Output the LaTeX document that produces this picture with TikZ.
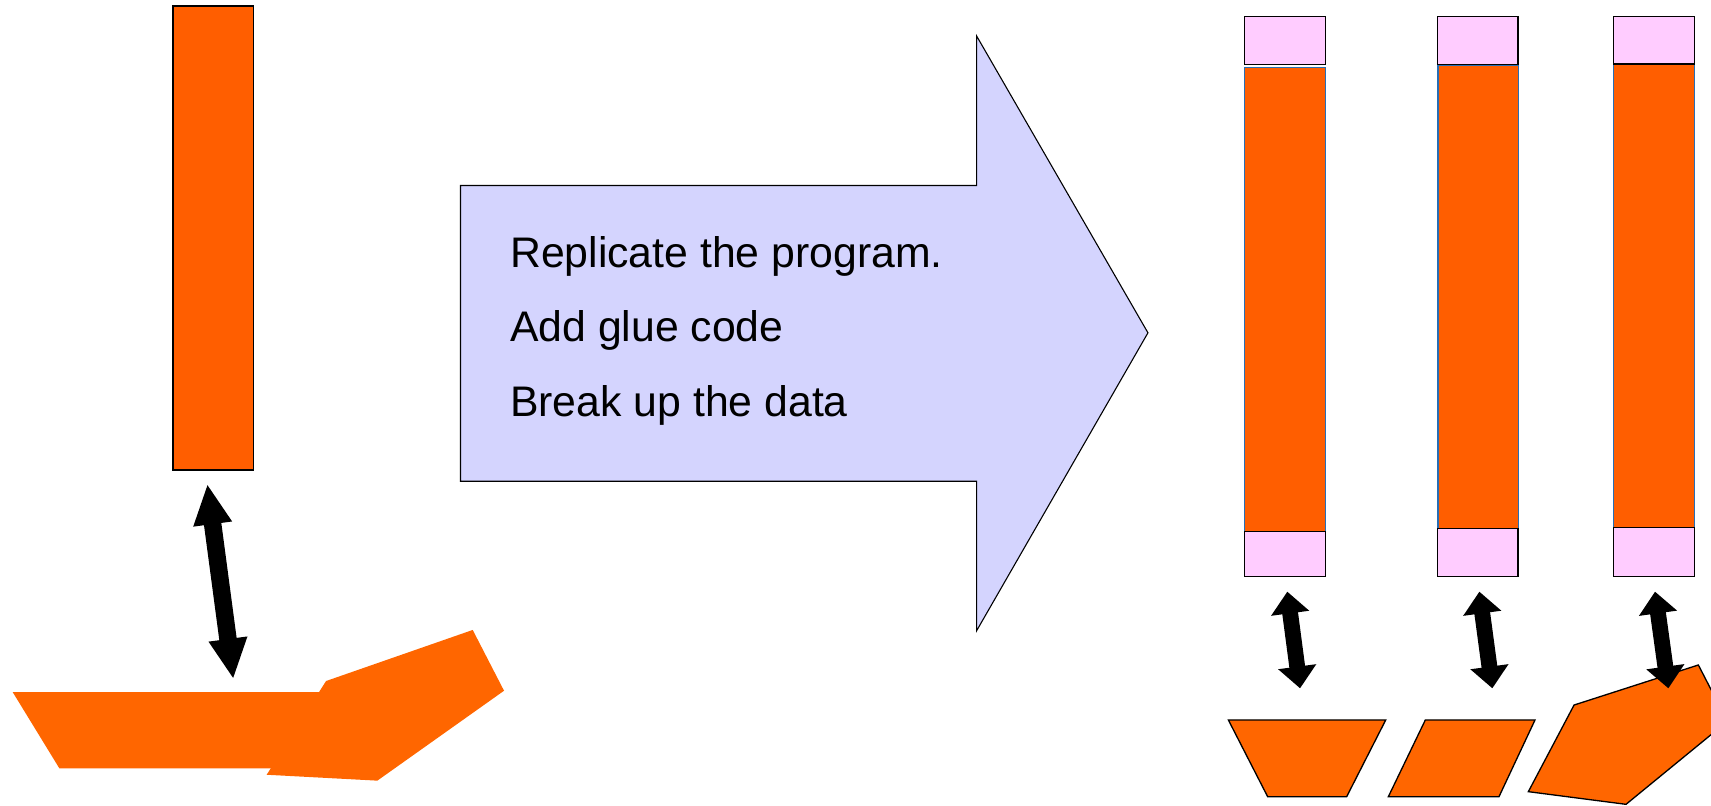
\documentclass[tikz,border=0pt]{standalone}
\usepackage{fontspec}
\setmainfont{Liberation Sans}
\usetikzlibrary{arrows.meta}
\definecolor{barorange}{RGB}{255,94,0}
\definecolor{dataorange}{RGB}{255,102,0}
\definecolor{lav}{RGB}{212,212,254}
\definecolor{pinkbox}{RGB}{255,204,255}
\definecolor{barblue}{RGB}{40,110,180}
\tikzset{
  bar/.style={draw=barblue, line width=1.3pt, fill=barorange, inner sep=0pt, minimum width=74pt, anchor=north west},
  leftbar/.style={draw=black, line width=1.2pt, fill=barorange, inner sep=0pt, anchor=north west},
  pinkcap/.style={draw=black, line width=1.3pt, fill=pinkbox, inner sep=0pt, minimum width=74pt, anchor=north west},
  dataleft/.style={fill=dataorange},
  dataright/.style={draw=black, line width=1.2pt, fill=dataorange, line join=miter},
  dbl/.style={line width=16pt, {Triangle[width=33pt,length=37pt]}-{Triangle[width=33pt,length=37pt]}},
  dbls/.style={line width=14.5pt, {Triangle[width=34pt,length=20pt]}-{Triangle[width=34pt,length=20pt]}},
  lbl/.style={anchor=base west, inner sep=0pt, font=\fontsize{39.2}{46}\selectfont}
}
\begin{document}
\begin{tikzpicture}[x=1pt,y=-1pt]
\useasboundingbox (0,0) rectangle (1568,738);
% left program bar
\node[leftbar, minimum width=74pt, minimum height=425pt] (lbar) at (158,5) {};
% left data (merged shapes)
\fill[dataleft] (11.6,634.2) -- (330,634.2) -- (330,704.1) -- (54.4,704.1) -- cycle;
\fill[dataleft] (298.8,624.1) -- (433.2,577.3) -- (461.9,633) -- (345.8,715.4) -- (244.4,710) -- cycle;
\coordinate (la1) at (190,443.6);
\coordinate (la2) at (213.8,622.3);
\draw[dbl] (la1) -- (la2);
% big arrow
\draw[fill=lav, line width=1pt, line join=miter] (422,170) -- (895,170) -- (895,33) -- (1052,305) -- (895,578) -- (895,441) -- (422,441) -- cycle;
\node[lbl] (t1) at (467.3,245) {Replicate the program.};
\node[lbl] (t2) at (467.3,313) {Add glue code};
\node[lbl] (t3) at (467.3,382) {Break up the data};
% right columns
\node[bar, minimum height=425.5pt] (b1) at (1140,61) {};
\node[pinkcap, minimum height=44.3pt] (c1t) at (1140,14.4) {};
\node[pinkcap, minimum height=41.4pt] (c1b) at (1140,486.5) {};
\node[bar, minimum height=425pt] (b2) at (1317,59.3) {};
\node[pinkcap, minimum height=44.3pt] (c2t) at (1316.6,14.4) {};
\node[pinkcap, minimum height=44.4pt] (c2b) at (1316.6,483.5) {};
\node[bar, minimum height=424.6pt] (b3) at (1478,58) {};
\node[pinkcap, minimum height=43.6pt] (c3t) at (1478,14.4) {};
\node[pinkcap, minimum height=45.3pt] (c3b) at (1478,482.6) {};
% right data
\draw[dataright] (1125.7,659.8) -- (1269.9,659.8) -- (1234.1,730.1) -- (1161.7,730.1) -- cycle;
\draw[dataright] (1306.2,659.8) -- (1406.7,659.8) -- (1373.7,730.1) -- (1272.3,730.1) -- cycle;
\draw[dataright] (1442.5,646.1) -- (1556.4,609.4) -- (1583,661) -- (1490.1,737.1) -- (1400.6,725.5) -- cycle;
% right arrows
\coordinate (r1a) at (1179.7,542.2);
\coordinate (r1b) at (1191.4,630.8);
\coordinate (r2a) at (1355.7,542.2);
\coordinate (r2b) at (1367.6,630.8);
\coordinate (r3a) at (1516.7,542.2);
\coordinate (r3b) at (1528.9,630.8);
\draw[dbls] (r1a) -- (r1b);
\draw[dbls] (r2a) -- (r2b);
\draw[dbls] (r3a) -- (r3b);
\end{tikzpicture}
\end{document}
